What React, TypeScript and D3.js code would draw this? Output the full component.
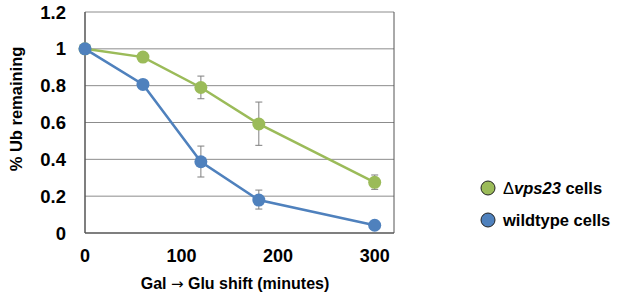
import React from "react";
import * as d3 from "d3";

const times = [0, 60, 120, 180, 300];
const vpsValues = [1, 0.955, 0.79, 0.592, 0.275];
const vpsErrLow = [null, null, 0.729, 0.476, 0.237];
const vpsErrHigh = [null, null, 0.852, 0.711, 0.315];
const wtValues = [1, 0.807, 0.387, 0.179, 0.042];
const wtErrLow = [null, null, 0.304, 0.13, null];
const wtErrHigh = [null, null, 0.472, 0.233, null];
const yTicks = [0, 0.2, 0.4, 0.6, 0.8, 1, 1.2];
const xTicks = [0, 100, 200, 300];
const seriesNames = ["vps23 cells", "wildtype cells"];

const GREEN = "#9BBB59";
const BLUE = "#4F81BD";

export default function App() {
  const W = 617, H = 296;
  const left = 85, right = 394, top = 12, bottom = 233;
  const x = d3.scaleLinear().domain([0, 320]).range([left, right]);
  const y = d3.scaleLinear().domain([0, 1.2]).range([bottom, top]);
  const line = d3.line<number>().x((_, i) => x(times[i])).y((d) => y(d));
  const font = "Arial, 'Liberation Sans', sans-serif";

  const series = [
    { vals: vpsValues, lo: vpsErrLow, hi: vpsErrHigh, color: GREEN },
    { vals: wtValues, lo: wtErrLow, hi: wtErrHigh, color: BLUE },
  ];

  return (
    <svg width={W} height={H} style={{ position: "absolute", left: 0, top: 0 }} fontFamily={font}>
      <rect width={W} height={H} fill="#fff" />
      {yTicks.map((t) => (
        <line key={t} x1={left} x2={right} y1={y(t)} y2={y(t)} stroke={t === 0 ? "#555" : "#8c8c8c"} strokeWidth={t === 0 ? 1.5 : 1} />
      ))}
      <line x1={left} x2={left} y1={top} y2={bottom} stroke="#555" strokeWidth={1.5} />
      <line x1={right} x2={right} y1={top} y2={bottom} stroke="#555" strokeWidth={1} />
      {yTicks.map((t) => (
        <text key={t} x={66} y={y(t) + 6.5} textAnchor="end" fontSize={18.5} fontWeight="bold" fill="#000">
          {d3.format("~g")(t)}
        </text>
      ))}
      {xTicks.map((t) => (
        <text key={t} x={x(t)} y={262} textAnchor="middle" fontSize={18} fontWeight="bold" fill="#000">
          {t}
        </text>
      ))}
      <text transform={`translate(22,109) rotate(-90)`} textAnchor="middle" fontSize={16.5} fontWeight="bold" fill="#000">
        % Ub remaining
      </text>
      <text x={235} y={289} textAnchor="middle" fontSize={16} fontWeight="bold" fill="#000">
        Gal <tspan fontFamily="'DejaVu Sans', sans-serif" fontWeight="normal" fontSize={15}>→</tspan> Glu shift (minutes)
      </text>
      {series.map((s, si) => (
        <g key={si}>
          {s.vals.map((v, i) =>
            s.lo[i] != null ? (
              <g key={i} stroke="#7f7f7f" strokeWidth={1}>
                <line x1={x(times[i])} x2={x(times[i])} y1={y(s.lo[i] as number)} y2={y(s.hi[i] as number)} />
                <line x1={x(times[i]) - 3.5} x2={x(times[i]) + 3.5} y1={y(s.lo[i] as number)} y2={y(s.lo[i] as number)} />
                <line x1={x(times[i]) - 3.5} x2={x(times[i]) + 3.5} y1={y(s.hi[i] as number)} y2={y(s.hi[i] as number)} />
              </g>
            ) : null
          )}
        </g>
      ))}
      {series.map((s, si) => (
        <g key={"l" + si}>
          <path d={line(s.vals) || ""} fill="none" stroke={s.color} strokeWidth={2.5} />
          {s.vals.map((v, i) => (
            <circle key={i} cx={x(times[i])} cy={y(v)} r={6.5} fill={s.color} />
          ))}
        </g>
      ))}
      {series.map((s, si) => (
        <g key={"lg" + si} transform={`translate(488,${188 + si * 32})`}>
          <circle r={7} fill={s.color} stroke="#222" strokeWidth={1} />
          <text x={15} y={6} fontSize={16.5} fontWeight="bold" fill="#000">
            {si === 0 ? (
              <>
                <tspan fontWeight="normal">Δ</tspan>
                <tspan fontStyle="italic">vps23</tspan>
                <tspan> cells</tspan>
              </>
            ) : (
              seriesNames[1]
            )}
          </text>
        </g>
      ))}
    </svg>
  );
}
